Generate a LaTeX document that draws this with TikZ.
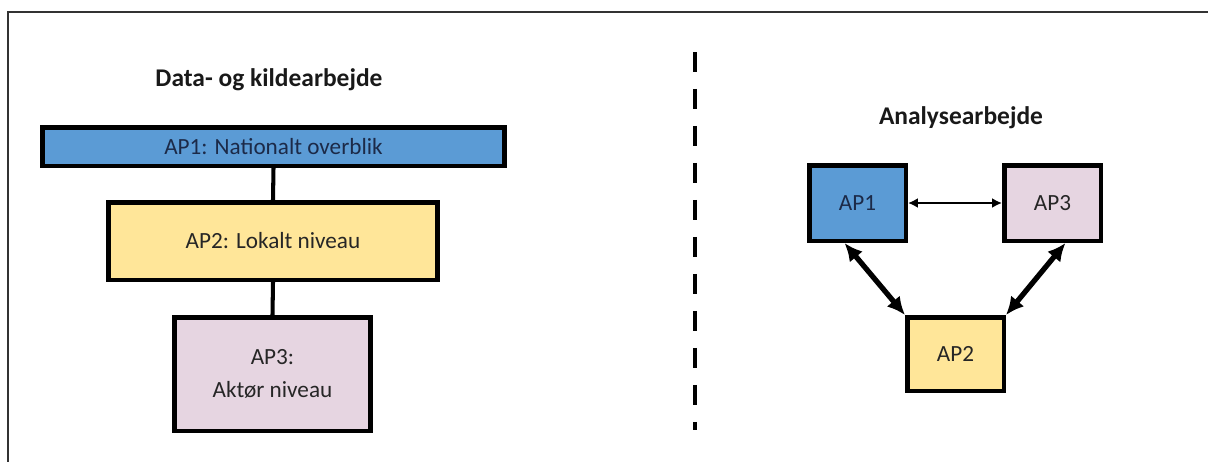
\documentclass[tikz,border=0pt]{standalone}
\usepackage{fontspec}
\setmainfont{Carlito}
\usepackage{tikz}
\usetikzlibrary{shapes,arrows,arrows.meta,positioning}

\definecolor{APblue}{HTML}{5B9BD5}
\definecolor{APyellow}{HTML}{FFE699}
\definecolor{APpink}{HTML}{E6D5E1}
\definecolor{APnavy}{HTML}{1C2A48}

\begin{document}
\begin{tikzpicture}[x=0.02cm, y=-0.02cm]
			\tikzstyle{Box}		= [rectangle, draw, line width=2.55pt, inner sep=0pt, align=center, font=\fontsize{13.2}{19}\selectfont]
			\tikzstyle{Blue}	= [fill=APblue, text=APnavy]
			\tikzstyle{Yellow}	= [fill=APyellow, text=black!85]
			\tikzstyle{Pink}	= [fill=APpink, text=black!85]
			\tikzstyle{Title}	= [font=\fontsize{14.5}{17}\selectfont\bfseries, text=black!90]
			\tikzstyle{Link}	= [line width=2.3pt]
			\tikzstyle{Thin}	= [line width=1.1pt, {Latex[length=2mm,width=2mm]}-{Latex[length=2mm,width=2mm]}]
			\tikzstyle{Thick}	= [line width=3pt, {Latex[length=3.6mm,width=3.4mm]}-{Latex[length=3.6mm,width=3.4mm]}]
			
			\useasboundingbox (0,0) rectangle (1208,461);
			\begin{scope}
				\clip (0,0) rectangle (1208,461);
				\draw [line width=0.8pt, black!80] (8,470) -- (8,12) -- (1220,12);
			\end{scope}
			
			% left part
			\node (lTitle) at (269,80) [Title] {Data- og kildearbejde};
			\node (lAP1) at (273.5,146.5) [Box][Blue][minimum width=9.25cm, minimum height=0.77cm] {AP1: Nationalt overblik};
			\node (lAP2) at (273,241) [Box][Yellow][minimum width=6.59cm, minimum height=1.55cm] {AP2: Lokalt niveau};
			\node (lAP3) at (272.5,374) [Box][Pink][minimum width=3.93cm, minimum height=2.27cm] {AP3:\\Aktør niveau};
			
			\draw [-] (lAP1.south) to (lAP2.north) [Link];
			\draw [-] (lAP2.south) to (lAP3.north) [Link];
			
			% divider
			\draw [line width=2.4pt, dash pattern=on 0.4cm off 0.34cm] (695,52) -- (695,430);
			
			% right part
			\node (rTitle) at (961,118) [Title] {Analysearbejde};
			\node (rAP1) at (857.5,203) [Box][Blue][minimum width=1.93cm, minimum height=1.51cm] {AP1};
			\node (rAP3) at (1052.5,203) [Box][Pink][minimum width=1.93cm, minimum height=1.51cm] {AP3};
			\node (rAP2) at (955.5,354) [Box][Yellow][minimum width=1.93cm, minimum height=1.47cm] {AP2};
			
			\draw (rAP1.east) to (rAP3.west) [Thin];
			\draw (rAP1.252) to (rAP2.north west) [Thick];
			\draw (rAP3.288) to (rAP2.north east) [Thick];
		\end{tikzpicture}
\end{document}
